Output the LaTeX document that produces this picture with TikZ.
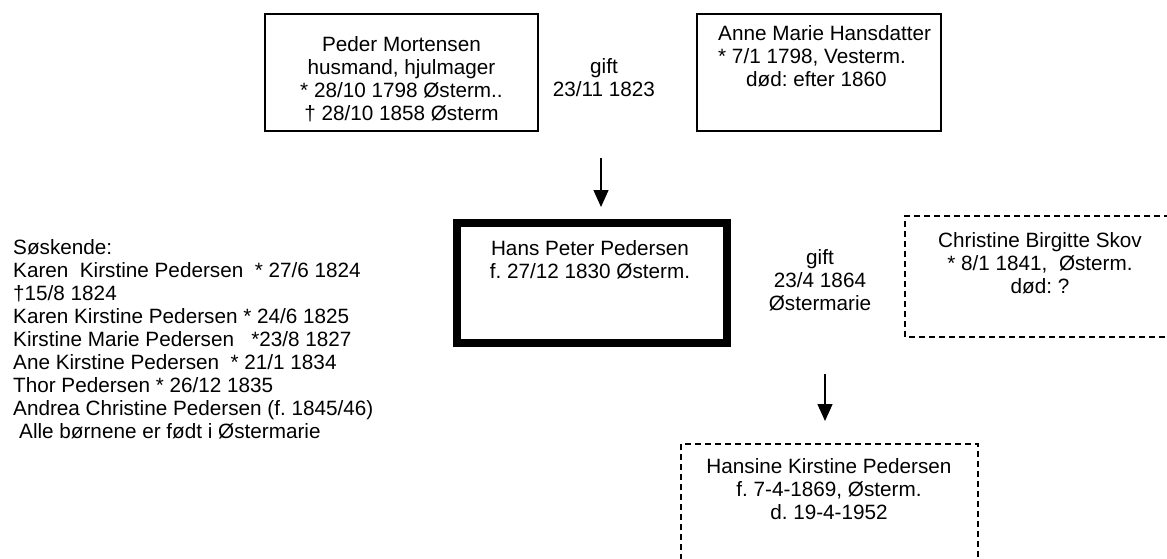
\documentclass[tikz,border=0pt]{standalone}
\usepackage{fontspec}
\setmainfont{Liberation Sans}
\frenchspacing
\usetikzlibrary{arrows.meta}
\tikzset{
  txt/.style={inner sep=0pt, align=center, font=\fontsize{20.7}{23}\selectfont},
  ltxt/.style={inner sep=0pt, align=left, font=\fontsize{20.7}{23}\selectfont},
  plainbox/.style={draw, line width=1.4pt},
  thickbox/.style={draw, line width=8pt},
  dashbox/.style={draw, line width=1.4pt, dash pattern=on 6pt off 4pt},
  arr/.style={line width=1.4pt, -{Triangle[length=17pt,width=15pt]}}
}
\begin{document}
\begin{tikzpicture}[x=1pt,y=-1pt]
\clip (0,0) rectangle (1167,559);
\fill[white] (0,0) rectangle (1167,559);
% parents
\draw[plainbox] (265,14) rectangle (538,131);
\node[txt, anchor=north] (peder) at (401.5,36) {Peder Mortensen\\husmand, hjulmager\\* 28/10 1798 Østerm..\\† 28/10 1858 Østerm};
\node[txt, anchor=north] (gift1) at (604,58) {gift\\23/11 1823};
\draw[plainbox] (697,14) rectangle (941,131);
\node[ltxt, anchor=north west] (anne) at (718,25) {Anne Marie Hansdatter\\* 7/1 1798, Vesterm.\\\hspace*{28pt}død: efter 1860};
\coordinate (a1s) at (601,158);
\coordinate (a1e) at (601,207);
\draw[arr] (a1s) -- (a1e);
% main person
\draw[thickbox] (457,223) rectangle (727,343);
\node[txt, anchor=north] (hans) at (590,240) {Hans Peter Pedersen\\f. 27/12 1830 Østerm.};
\node[txt, anchor=north] (gift2) at (820,249) {gift\\23/4 1864\\Østermarie};
\draw[dashbox] (1190,216) -- (905,216) -- (905,337) -- (1190,337);
\node[txt, anchor=north] (christine) at (1040,232) {Christine Birgitte Skov\\* 8/1 1841,\ \ Østerm.\\død: ?};
% siblings
\node[ltxt, anchor=north west] (sosk) at (13,239) {Søskende:\\Karen\ \ Kirstine Pedersen\ \ * 27/6 1824\\†15/8 1824\\Karen Kirstine Pedersen * 24/6 1825\\Kirstine Marie Pedersen\ \ \ *23/8 1827\\Ane Kirstine Pedersen\ \ * 21/1 1834\\Thor Pedersen * 26/12 1835\\Andrea Christine Pedersen (f. 1845/46)\\\hspace*{6pt}Alle børnene er født i Østermarie};
% child
\coordinate (a2s) at (825,374);
\coordinate (a2e) at (825,421);
\draw[arr] (a2s) -- (a2e);
\draw[dashbox] (681,600) -- (681,444) -- (978,444) -- (978,600);
\node[txt, anchor=north] (hansine) at (829,458) {Hansine Kirstine Pedersen\\f. 7-4-1869, Østerm.\\d. 19-4-1952};
\end{tikzpicture}
\end{document}
